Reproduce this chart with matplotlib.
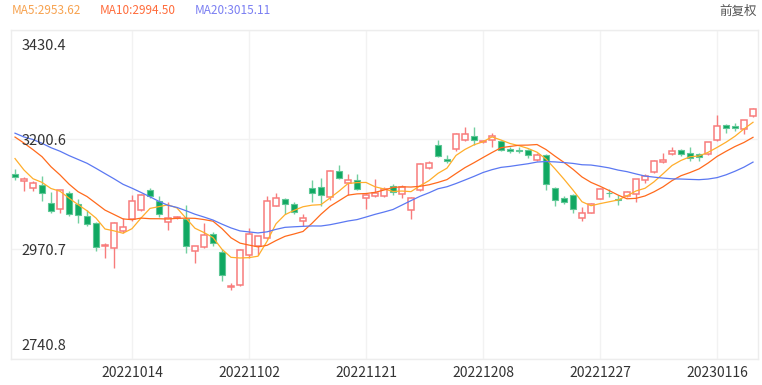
import matplotlib
matplotlib.use("Agg")
import matplotlib.pyplot as plt
import numpy as np
import pandas as pd

# ── 数据 ──────────────────────────────────────────────────────────
dates = ["20220920", "20220921", "20220922", "20220923", "20220926", "20220927",
         "20220928", "20220929", "20220930", "20221010", "20221011", "20221012",
         "20221013", "20221014", "20221017", "20221018", "20221019", "20221020",
         "20221021", "20221024", "20221025", "20221026", "20221027", "20221028",
         "20221031", "20221101", "20221102", "20221103", "20221104", "20221107",
         "20221108", "20221109", "20221110", "20221111", "20221114", "20221115",
         "20221116", "20221117", "20221118", "20221121", "20221122", "20221123",
         "20221124", "20221125", "20221128", "20221129", "20221130", "20221201",
         "20221202", "20221205", "20221206", "20221207", "20221208", "20221209",
         "20221212", "20221213", "20221214", "20221215", "20221216", "20221219",
         "20221220", "20221221", "20221222", "20221223", "20221226", "20221227",
         "20221228", "20221229", "20221230", "20230103", "20230104", "20230105",
         "20230106", "20230109", "20230110", "20230111", "20230112", "20230113",
         "20230116", "20230117", "20230118", "20230119", "20230120"]

opens = [3129, 3114, 3098, 3106, 3067, 3054, 3089, 3066, 3041, 3026,
         2977, 2974, 3008, 3033, 3053, 3095, 3072, 3027, 3036, 3034,
         2967, 2976, 3003, 2965, 2891, 2895, 2958, 2978, 2995, 3062,
         3076, 3065, 3030, 3098, 3100, 3080, 3134, 3109, 3116, 3077,
         3083, 3083, 3103, 3086, 3053, 3095, 3141, 3188, 3160, 3180,
         3200, 3207, 3196, 3199, 3197, 3180, 3179, 3178, 3157, 3167,
         3098, 3077, 3085, 3036, 3047, 3076, 3089, 3076, 3083, 3086,
         3116, 3132, 3153, 3169, 3178, 3172, 3169, 3170, 3199, 3230,
         3228, 3222, 3250]
highs = [3139, 3121, 3113, 3123, 3090, 3095, 3092, 3075, 3053, 3028,
         2984, 3027, 3035, 3085, 3087, 3099, 3081, 3069, 3041, 3063,
         2978, 3026, 3006, 2971, 2900, 2970, 3016, 2998, 3081, 3088,
         3078, 3069, 3045, 3116, 3120, 3136, 3146, 3127, 3127, 3088,
         3118, 3101, 3107, 3106, 3080, 3152, 3155, 3199, 3168, 3214,
         3227, 3227, 3200, 3214.5, 3199, 3185, 3185, 3180, 3172, 3169,
         3100, 3081, 3086, 3058, 3068, 3098, 3097, 3085, 3093, 3118,
         3129, 3158, 3171, 3184, 3180, 3184, 3171, 3196, 3252, 3232,
         3234, 3242, 3267.05]
lows = [3115, 3092, 3092, 3072, 3046, 3046.6, 3040, 3025, 3020, 2967,
        2953, 2932, 3004, 3029, 3051, 3078, 3038, 3011, 3033, 2962,
        2941, 2974, 2977, 2905, 2885.09, 2893, 2952, 2958, 2993, 3060,
        3045, 3044, 3020, 3069, 3062, 3073, 3117, 3085, 3094, 3055,
        3080, 3080, 3084, 3077, 3033, 3093, 3139, 3163, 3150, 3177,
        3197, 3189, 3193, 3185, 3177, 3172, 3172, 3161, 3155, 3094,
        3060, 3066, 3046, 3030, 3046, 3075, 3080, 3064, 3080, 3070,
        3110, 3130, 3151, 3167, 3166, 3156, 3155, 3168, 3197, 3213,
        3218, 3211, 3248]
closes = [3122.4, 3117.2, 3108.9, 3088.4, 3051.2, 3093.9, 3045.1, 3041.2, 3024.4, 2974.2,
          2979.8, 3025.5, 3016.4, 3072.0, 3084.9, 3081.0, 3044.4, 3035.1, 3038.9, 2977.6,
          2976.3, 2999.5, 2982.9, 2915.9, 2893.5, 2969.2, 3003.4, 2997.8, 3070.8, 3077.8,
          3064.5, 3048.2, 3036.1, 3087.3, 3083.4, 3134.1, 3120.0, 3115.4, 3097.2, 3085.0,
          3088.9, 3096.9, 3089.3, 3101.7, 3078.6, 3149.8, 3151.3, 3165.5, 3156.1, 3211.8,
          3212.5, 3199.6, 3197.4, 3207.0, 3179.0, 3176.3, 3176.5, 3168.7, 3167.9, 3107.1,
          3073.8, 3068.4, 3054.4, 3045.9, 3065.6, 3095.6, 3087.4, 3073.7, 3089.3, 3116.5,
          3123.5, 3155.2, 3157.6, 3176.1, 3169.5, 3161.8, 3163.5, 3195.3, 3227.6, 3224.2,
          3224.4, 3240.3, 3264.8]

# 图中第一根K线之前的收盘价，只用于计算均线起点
prior_closes = [3276.2, 3215.2, 3246.3, 3236.2, 3240.7, 3227.2, 3202.1, 3185.0,
                3186.5, 3199.9, 3243.5, 3246.3, 3235.6, 3262.1, 3263.8, 3237.5,
                3199.9, 3126.4, 3115.6]

ma_periods = [5, 10, 20]
ma_legend = ["MA5:2953.62", "MA10:2994.50", "MA20:3015.11"]
y_tick_labels = ["2740.8", "2970.7", "3200.6", "3430.4"]
x_tick_dates = ["20221014", "20221102", "20221121", "20221208", "20221227", "20230116"]

# ── 颜色 ──────────────────────────────────────────────────────────
COLORS = {
    "up":        "#F87C7C",
    "down":      "#10A862",
    "down_edge": "#5EC796",
    "down_wick": "#72CFA0",
    "ma":        ["#FFAE2B", "#FF6A1C", "#5B78F2"],
    "legend":    ["#F7A24F", "#FF6B3A", "#7A7EF2"],
    "grid":      "#F2F2F2",
    "text":      "#333333",
}
FONT = ["Noto Sans CJK SC", "DejaVu Sans"]
plt.rcParams["font.family"] = FONT

W, H = 762, 385
fig = plt.figure(figsize=(W / 100, H / 100), dpi=100)
left, right, top, bottom = 10.5, 757.5, 29.5, 359
ax = fig.add_axes([left / W, 1 - bottom / H, (right - left) / W, (bottom - top) / H])

n = len(closes)
idx = np.arange(n)
o = np.array(opens, float)
h = np.array(highs, float)
l = np.array(lows, float)
c = np.array(closes, float)
up = c >= o

# ── 影线 + 实体 ──────────────────────────────────────────────────
ax.vlines(idx[up], l[up], h[up], color=COLORS["up"], lw=1, zorder=2)
ax.vlines(idx[~up], l[~up], h[~up], color=COLORS["down_wick"], lw=1, zorder=2)

body_h = np.maximum(np.abs(c - o), 0.8)
body_b = np.minimum(o, c)
ax.bar(idx[up], body_h[up], bottom=body_b[up], width=0.7,
       facecolor="white", edgecolor=COLORS["up"], linewidth=1.1, zorder=3)
ax.bar(idx[~up], body_h[~up], bottom=body_b[~up], width=0.7,
       facecolor=COLORS["down"], edgecolor=COLORS["down_edge"], linewidth=0.8, zorder=3)

# ── 均线 ──────────────────────────────────────────────────────────
all_closes = pd.Series(prior_closes + closes)
for p, col in zip(ma_periods, COLORS["ma"]):
    ma = all_closes.rolling(p).mean().to_numpy()[-n:]
    ax.plot(idx, ma, color=col, lw=0.9, zorder=4)

# ── 坐标轴 ────────────────────────────────────────────────────────
y_min = l.min() * 0.95
y_max = h.max() * 1.05
ax.set_xlim(-0.5, n - 0.5)
ax.set_ylim(y_min, y_max)
y_ticks = np.linspace(y_min, y_max, 4)
ax.set_yticks(y_ticks)
ax.set_yticklabels([])
ax.tick_params(axis="y", length=0)

x_ticks = [dates.index(d) for d in x_tick_dates]
ax.set_xticks(x_ticks)
ax.set_xticklabels(x_tick_dates, fontsize=10, color=COLORS["text"])
ax.tick_params(axis="x", length=0, pad=5)
ax.grid(True, color=COLORS["grid"], lw=1, zorder=0)
ax.set_axisbelow(True)
for s in ax.spines.values():
    s.set_color("#EDEDED")
    s.set_linewidth(1)

# y 轴标签画在图内左侧
offsets = [(6, "bottom"), (-2, "center"), (-2, "center"), (-9, "top")]
for yv, lab, (dy, va) in zip(y_ticks, y_tick_labels, offsets):
    ax.annotate(lab, xy=(0, yv), xycoords=("axes fraction", "data"),
                xytext=(11, dy), textcoords="offset pixels",
                ha="left", va=va, fontsize=10.5, color=COLORS["text"], zorder=6)

# ── 顶部图例 ──────────────────────────────────────────────────────
legend_x = [12, 100, 195]
for x, txt, col in zip(legend_x, ma_legend, COLORS["legend"]):
    fig.text(x / W, 1 - 11 / H, txt, ha="left", va="center",
             fontsize=8.5, color=col)
fig.text(757 / W, 1 - 11 / H, "前复权", ha="right", va="center",
         fontsize=9, color="#555555")

fig.savefig("out.png", dpi=100, facecolor="white")
plt.close(fig)
